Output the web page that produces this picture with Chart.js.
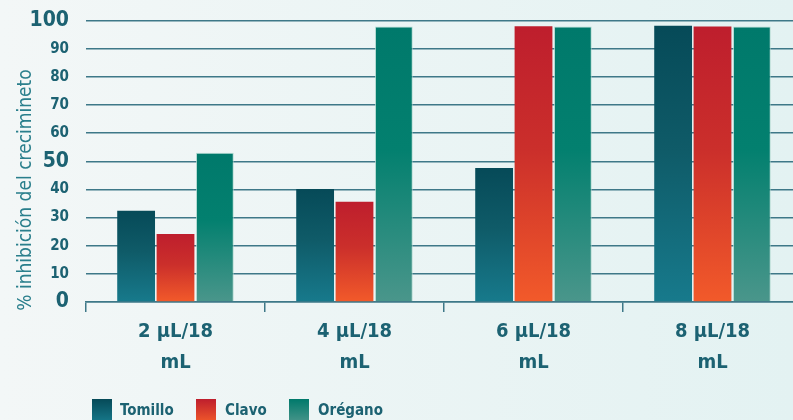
<!DOCTYPE html>
<html>
<head>
<meta charset="utf-8">
<script src="https://cdn.jsdelivr.net/npm/chart.js@4.4.1/dist/chart.umd.min.js"></script>
<style>
  html, body { margin: 0; padding: 0; overflow: hidden; }
  body { width: 793px; height: 420px; background: linear-gradient(to right, #f3f7f7, #e3f2f2); position: relative; }
  #wrap { position: absolute; left: 0; top: -7px; width: 802px; height: 427px; }
  #legend { position: absolute; left: 92px; top: 399px; font: bold 15px "Liberation Sans Narrow", "DejaVu Sans Condensed", sans-serif; color: #1c6272; }
  #legend span.box { position: absolute; top: 0; width: 20px; height: 24px; }
  #legend span.txt { position: absolute; top: 2px; white-space: nowrap; }
</style>
</head>
<body>
<div id="wrap"><canvas id="chart" width="802" height="427"></canvas></div>
<div id="legend"></div>
<script>
// categorias e valores
const categorias = [['2 µL/18', 'mL'], ['4 µL/18', 'mL'], ['6 µL/18', 'mL'], ['8 µL/18', 'mL']];
const tomillo = [32.4, 40.1, 47.6, 98.1];
const clavo = [24.2, 35.6, 98.0, 97.9];
const oregano = [53.0, 97.9, 97.9, 97.9];
const yTicks = [0, 10, 20, 30, 40, 50, 60, 70, 80, 90, 100];

const fonte = '"Liberation Sans Narrow", "DejaVu Sans Condensed", sans-serif';
const corTexto = '#1c6272';

// cores do degradê (topo, meio, base)
const cores = {
  Tomillo: ['#064a58', '#0f5b68', '#177a8c'],
  Clavo: ['#be1e2d', '#cb2f2b', '#f25a2a'],
  'Orégano': ['#00796b', '#03806f', '#4a968b']
};

function degrade(nome) {
  return function (ctx) {
    const chart = ctx.chart;
    if (!chart.chartArea || ctx.parsed === undefined) return cores[nome][0];
    const y = chart.scales.y;
    const top = y.getPixelForValue(ctx.parsed.y);
    const base = y.getPixelForValue(0);
    const g = chart.ctx.createLinearGradient(0, top, 0, base);
    g.addColorStop(0, cores[nome][0]);
    g.addColorStop(0.45, cores[nome][1]);
    g.addColorStop(1, cores[nome][2]);
    return g;
  };
}

// título do eixo y desenhado à mão para ficar na posição certa
const tituloY = {
  id: 'tituloY',
  afterDraw(chart) {
    const c = chart.ctx;
    c.save();
    c.translate(26, 197);
    c.rotate(-Math.PI / 2);
    c.font = '19px ' + fonte;
    c.fillStyle = '#2a7f8c';
    c.textAlign = 'center';
    c.textBaseline = 'middle';
    c.fillText('% inhibición del crecimineto', 0, 0);
    c.restore();
  }
};

new Chart(document.getElementById('chart'), {
  type: 'bar',
  data: {
    labels: categorias,
    datasets: [
      { label: 'Tomillo', data: tomillo, backgroundColor: degrade('Tomillo') },
      { label: 'Clavo', data: clavo, backgroundColor: degrade('Clavo') },
      { label: 'Orégano', data: oregano, backgroundColor: degrade('Orégano'),
        borderColor: 'rgba(170,215,205,0.8)', borderWidth: 1, borderSkipped: 'bottom' }
    ]
  },
  options: {
    responsive: false,
    animation: false,
    categoryPercentage: 0.66,
    barPercentage: 0.96,
    layout: { padding: { top: 0, left: 0, right: 0, bottom: 0 } },
    plugins: { legend: { display: false }, tooltip: { enabled: false } },
    scales: {
      x: {
        afterFit: s => { s.height = 118; },
        border: { color: '#3e7888', width: 1.5 },
        grid: { offset: true, drawOnChartArea: false, color: '#3e7888', tickLength: 10, lineWidth: 1.5 },
        ticks: { color: corTexto, padding: 4, font: { family: fonte, size: 20, weight: 'bold', lineHeight: 1.55 } }
      },
      y: {
        min: 0,
        max: 100,
        afterFit: s => { s.width = 86; },
        afterBuildTicks: s => { s.ticks = yTicks.map(v => ({ value: v })); },
        border: { display: false },
        grid: { color: '#3e7888', lineWidth: 1.5, drawTicks: false },
        ticks: {
          color: corTexto,
          padding: 17,
          autoSkip: false,
          font: ctx => ({
            family: fonte,
            weight: 'bold',
            lineHeight: 1,
            size: [0, 50, 100].includes(ctx.tick && ctx.tick.value) ? 21 : 15
          })
        }
      }
    }
  },
  plugins: [tituloY]
});

// legenda em HTML com caixas em degradê
const legenda = document.getElementById('legend');
const itens = [['Tomillo', 0, 28], ['Clavo', 104, 133], ['Orégano', 197, 226]];
itens.forEach(([nome, xb, xt]) => {
  const b = document.createElement('span');
  b.className = 'box';
  b.style.left = xb + 'px';
  b.style.background = 'linear-gradient(to bottom, ' + cores[nome][0] + ', ' + cores[nome][2] + ')';
  legenda.appendChild(b);
  const t = document.createElement('span');
  t.className = 'txt';
  t.style.left = xt + 'px';
  t.textContent = nome;
  legenda.appendChild(t);
});
</script>
</body>
</html>
